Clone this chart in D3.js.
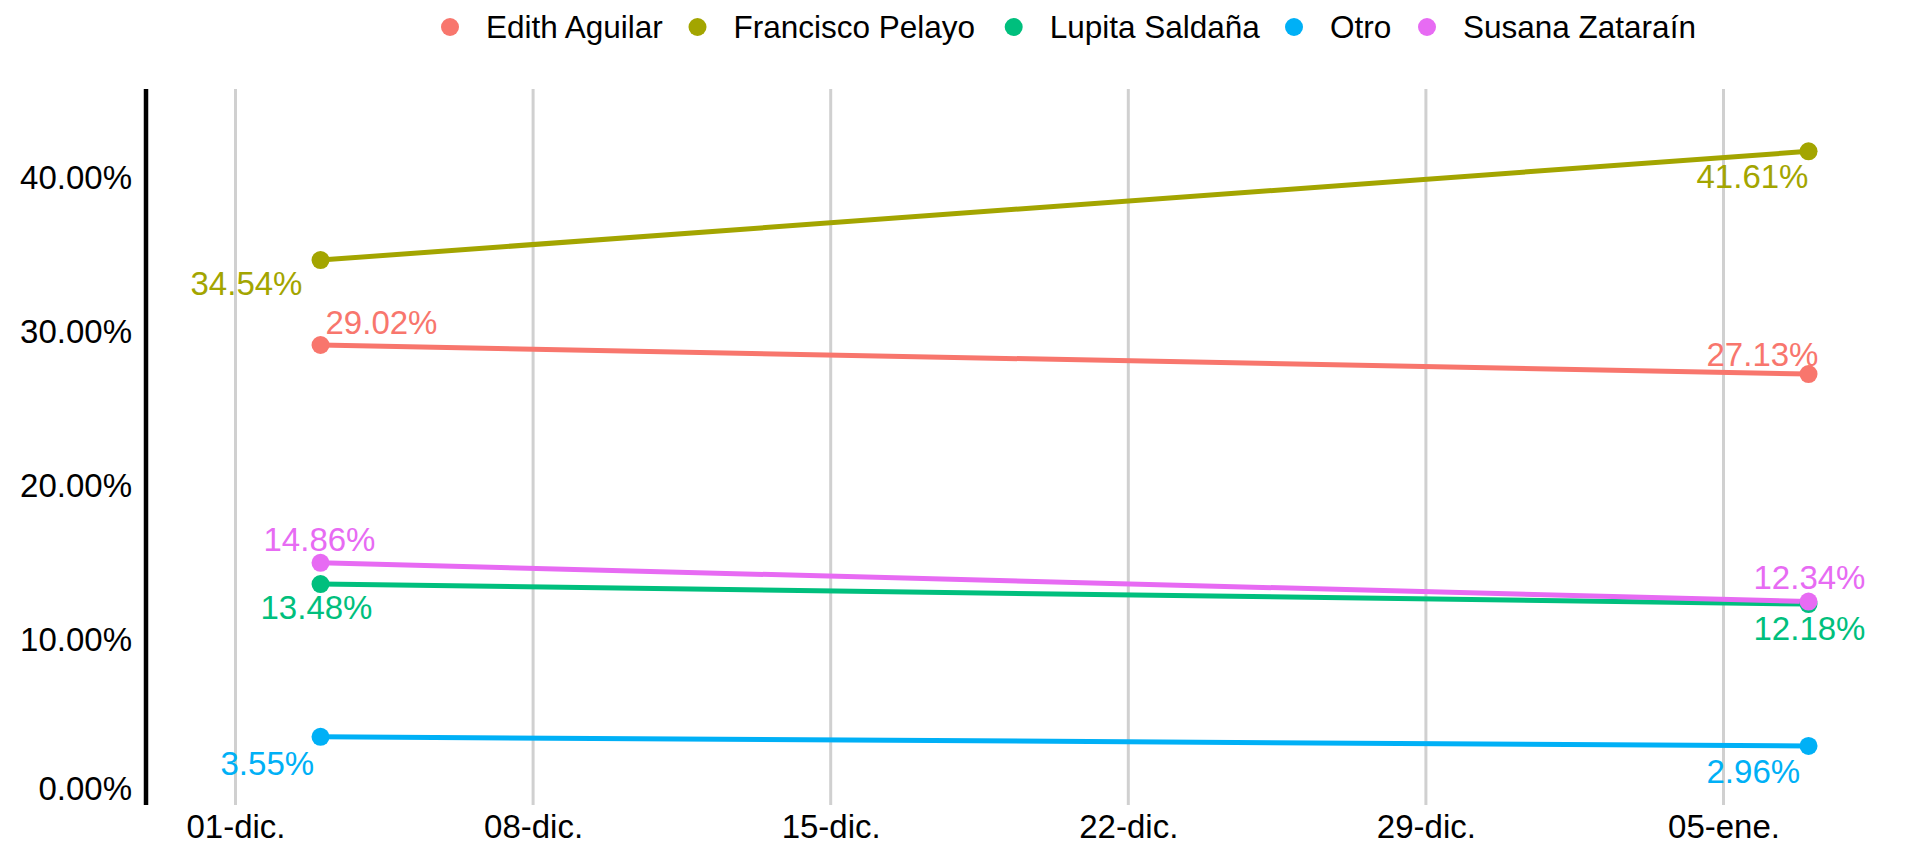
<!DOCTYPE html>
<html>
<head>
<meta charset="utf-8">
<script src="https://cdn.jsdelivr.net/npm/d3@7/dist/d3.min.js"></script>
<style>
  html, body { margin: 0; padding: 0; background: #ffffff; }
  svg { display: block; font-family: "Liberation Sans", Arial, sans-serif; }
</style>
</head>
<body>
<svg id="chart" width="1929" height="845"></svg>
<script>
// ---- Data ----
const seriesNames = ["Edith Aguilar", "Francisco Pelayo", "Lupita Saldaña", "Otro", "Susana Zataraín"];
const dates = ["2023-12-03", "2024-01-07"];
const edithAguilar = [29.02, 27.13];
const franciscoPelayo = [34.54, 41.61];
const lupitaSaldana = [13.48, 12.18];
const otro = [3.55, 2.96];
const susanaZatarain = [14.86, 12.34];
const xTickDates = ["2023-12-01", "2023-12-08", "2023-12-15", "2023-12-22", "2023-12-29", "2024-01-05"];
const xTickLabels = ["01-dic.", "08-dic.", "15-dic.", "22-dic.", "29-dic.", "05-ene."];
const yTicks = [0, 10, 20, 30, 40];

// ---- Styling / layout ----
const colors = ["#F8766D", "#A3A500", "#00BF7D", "#00B0F6", "#E76BF3"];
// label offsets (dx to label left edge, dy to label centre) for first / last point of each series
const labelOffsets = [
  [[5, -23], [-102, -20]],
  [[-130, 23], [-112, 25]],
  [[-60, 23], [-55, 24]],
  [[-100, 27], [-102, 26]],
  [[-57, -23], [-55, -24]]
];

const values = [edithAguilar, franciscoPelayo, lupitaSaldana, otro, susanaZatarain];
const parse = d3.utcParse("%Y-%m-%d");
const series = seriesNames.map((name, i) => ({
  name, color: colors[i], offsets: labelOffsets[i],
  points: dates.map((d, j) => ({ date: parse(d), value: values[i][j] }))
}));

const panel = { left: 146, top: 89, bottom: 805 };
const svg = d3.select("#chart");

const x = d3.scaleUtc()
  .domain([parse(xTickDates[0]), parse(xTickDates[xTickDates.length - 1])])
  .range([235.5, 1723.5]);

const y = d3.scaleLinear()
  .domain([-0.88, 45.66])
  .range([panel.bottom, panel.top]);

// vertical gridlines
svg.append("g").selectAll("line")
  .data(xTickDates)
  .join("line")
  .attr("x1", d => x(parse(d))).attr("x2", d => x(parse(d)))
  .attr("y1", panel.top).attr("y2", panel.bottom)
  .attr("stroke", "#d0d0d0").attr("stroke-width", 3);

// x axis labels
const xAxis = d3.axisBottom(x)
  .tickValues(xTickDates.map(parse))
  .tickFormat((d, i) => xTickLabels[i])
  .tickSize(0).tickPadding(10);
const gx = svg.append("g").attr("transform", `translate(0,${panel.bottom})`).call(xAxis);
gx.select(".domain").remove();
gx.selectAll("text").attr("font-size", 33).attr("fill", "#000").attr("font-family", "Liberation Sans, Arial, sans-serif");

// y axis
const yAxis = d3.axisLeft(y)
  .tickValues(yTicks)
  .tickFormat(d => d3.format(".2f")(d) + "%")
  .tickSize(0).tickPadding(14);
const gy = svg.append("g").attr("transform", `translate(${panel.left},0)`).call(yAxis);
gy.select(".domain").remove();
gy.selectAll("text").attr("font-size", 33).attr("fill", "#000").attr("font-family", "Liberation Sans, Arial, sans-serif")
  .attr("dy", "0.36em").attr("y", d => d === 0 ? -4 : 1);
svg.append("line")
  .attr("x1", panel.left).attr("x2", panel.left)
  .attr("y1", panel.top).attr("y2", panel.bottom)
  .attr("stroke", "#000").attr("stroke-width", 4.5);

// lines
const line = d3.line().x(d => x(d.date)).y(d => y(d.value));
svg.append("g").selectAll("path")
  .data(series)
  .join("path")
  .attr("d", s => line(s.points))
  .attr("fill", "none")
  .attr("stroke", s => s.color)
  .attr("stroke-width", 5);

// points
svg.append("g").selectAll("g")
  .data(series)
  .join("g")
  .attr("fill", s => s.color)
  .selectAll("circle")
  .data(s => s.points)
  .join("circle")
  .attr("cx", d => x(d.date)).attr("cy", d => y(d.value)).attr("r", 9);

// value labels
const pct = d => d3.format(".2f")(d) + "%";
series.forEach(s => {
  svg.append("g").selectAll("text")
    .data(s.points)
    .join("text")
    .attr("x", (d, j) => x(d.date) + s.offsets[j][0])
    .attr("y", (d, j) => y(d.value) + s.offsets[j][1])
    .attr("dominant-baseline", "central")
    .attr("font-size", 33)
    .attr("fill", s.color)
    .text(d => pct(d.value));
});

// legend
const legendDotX = [450, 697.5, 1013.7, 1294, 1427];
const legend = svg.append("g").selectAll("g")
  .data(series)
  .join("g")
  .attr("transform", (s, i) => `translate(${legendDotX[i]},27)`);
legend.append("circle").attr("r", 9).attr("fill", s => s.color);
legend.append("text")
  .attr("x", 36).attr("dominant-baseline", "central")
  .attr("font-size", 31.5).attr("fill", "#000")
  .text(s => s.name);
</script>
</body>
</html>
